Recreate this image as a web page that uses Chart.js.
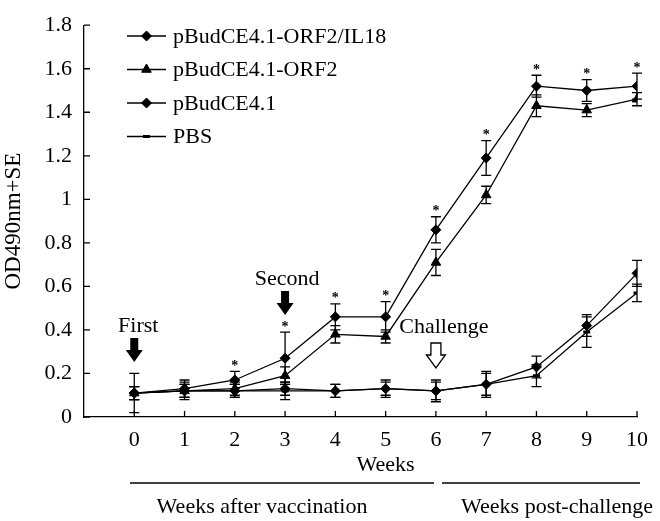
<!DOCTYPE html>
<html lang="en">
<head>
    <meta charset="UTF-8">
    <title>OD490nm by week</title>
    <style>
        body {
            margin: 0;
            background-color: #ffffff;
        }
        #wrap {
            width: 660px;
            height: 521px;
        }
    </style>
</head>
<body>
    <div id="wrap"><canvas id="odChart" width="660" height="521"></canvas></div>

    <script src="https://cdn.jsdelivr.net/npm/chart.js"></script>
    <script>
        // values
        const weeks = [0, 1, 2, 3, 4, 5, 6, 7, 8, 9, 10];
        const seriesNames = ['pBudCE4.1-ORF2/IL18', 'pBudCE4.1-ORF2', 'pBudCE4.1', 'PBS'];
        const il18Values = [0.11, 0.13, 0.17, 0.27, 0.46, 0.46, 0.86, 1.19, 1.52, 1.50, 1.52];
        const il18Se = [0.09, 0.04, 0.04, 0.12, 0.06, 0.07, 0.06, 0.08, 0.05, 0.05, 0.06];
        const orf2Values = [0.11, 0.12, 0.13, 0.19, 0.38, 0.37, 0.71, 1.02, 1.43, 1.41, 1.46];
        const orf2Se = [0.03, 0.03, 0.03, 0.04, 0.04, 0.03, 0.06, 0.04, 0.05, 0.03, 0.03];
        const vectorValues = [0.11, 0.12, 0.12, 0.13, 0.12, 0.13, 0.12, 0.15, 0.23, 0.42, 0.66];
        const vectorSe = [0.03, 0.03, 0.03, 0.03, 0.03, 0.04, 0.04, 0.05, 0.05, 0.05, 0.06];
        const pbsValues = [0.11, 0.12, 0.12, 0.12, 0.12, 0.13, 0.12, 0.15, 0.19, 0.39, 0.57];
        const pbsSe = [0.03, 0.04, 0.03, 0.04, 0.03, 0.03, 0.05, 0.06, 0.05, 0.07, 0.04];
        const starWeeks = [2, 3, 4, 5, 6, 7, 8, 9, 10];
        const yTicks = [0, 0.2, 0.4, 0.6, 0.8, 1, 1.2, 1.4, 1.6, 1.8];

        const FONT = "'Liberation Serif', 'Times New Roman', serif";
        const FS = 22;

        const toPoints = (vals) => weeks.map((w, i) => ({ x: w, y: vals[i] }));

        const makeSet = (label, vals, se, style, radius, bw) => ({
            label: label,
            data: toPoints(vals),
            se: se,
            borderColor: '#000',
            backgroundColor: '#000',
            borderWidth: 1.3,
            pointStyle: style,
            pointRadius: radius,
            pointBorderWidth: bw,
            tension: 0
        });

        const datasets = [
            makeSet(seriesNames[0], il18Values, il18Se, 'rectRot', 5, 1),
            makeSet(seriesNames[1], orf2Values, orf2Se, 'triangle', 5.5, 1),
            makeSet(seriesNames[2], vectorValues, vectorSe, 'rectRot', 5, 1),
            makeSet(seriesNames[3], pbsValues, pbsSe, 'line', 3.5, 3)
        ];

        const arrow = (ctx, x, y1, y2, shaftW, headW, headH, hollow) => {
            ctx.beginPath();
            ctx.moveTo(x - shaftW / 2, y1);
            ctx.lineTo(x + shaftW / 2, y1);
            ctx.lineTo(x + shaftW / 2, y2 - headH);
            ctx.lineTo(x + headW / 2, y2 - headH);
            ctx.lineTo(x, y2);
            ctx.lineTo(x - headW / 2, y2 - headH);
            ctx.lineTo(x - shaftW / 2, y2 - headH);
            ctx.closePath();
            if (hollow) {
                ctx.fillStyle = '#fff';
                ctx.fill();
                ctx.lineWidth = 1.3;
                ctx.strokeStyle = '#000';
                ctx.stroke();
            } else {
                ctx.fillStyle = '#000';
                ctx.fill();
            }
        };

        const decor = {
            id: 'decor',
            afterDatasetsDraw(chart) {
                const ctx = chart.ctx;
                const xs = chart.scales.x, ys = chart.scales.y;
                ctx.save();
                ctx.strokeStyle = '#000';
                ctx.lineWidth = 1.3;
                chart.data.datasets.forEach(ds => {
                    ds.data.forEach((p, i) => {
                        const px = xs.getPixelForValue(p.x);
                        const top = ys.getPixelForValue(p.y + ds.se[i]);
                        const bot = ys.getPixelForValue(p.y - ds.se[i]);
                        ctx.beginPath();
                        ctx.moveTo(px, top); ctx.lineTo(px, bot);
                        ctx.moveTo(px - 5, top); ctx.lineTo(px + 5, top);
                        ctx.moveTo(px - 5, bot); ctx.lineTo(px + 5, bot);
                        ctx.stroke();
                    });
                });
                // significance marks above the ORF2/IL18 bars
                ctx.fillStyle = '#000';
                ctx.font = 'bold 14px ' + FONT;
                ctx.textAlign = 'center';
                ctx.textBaseline = 'middle';
                starWeeks.forEach(w => {
                    const i = weeks.indexOf(w);
                    const top = ys.getPixelForValue(il18Values[i] + il18Se[i]);
                    ctx.fillText('*', xs.getPixelForValue(w), top - 5);
                });
                ctx.restore();
            },
            afterDraw(chart) {
                const ctx = chart.ctx;
                const xs = chart.scales.x, ys = chart.scales.y;
                const area = chart.chartArea;
                ctx.save();
                ctx.strokeStyle = '#000';
                ctx.fillStyle = '#000';
                ctx.lineWidth = 1.3;
                // inward tick marks
                ctx.beginPath();
                weeks.forEach(w => {
                    const px = xs.getPixelForValue(w);
                    ctx.moveTo(px, area.bottom); ctx.lineTo(px, area.bottom - 6);
                });
                yTicks.forEach(v => {
                    const py = ys.getPixelForValue(v);
                    ctx.moveTo(area.left, py); ctx.lineTo(area.left + 6, py);
                });
                ctx.stroke();

                // legend
                ctx.font = FS + 'px ' + FONT;
                ctx.textAlign = 'left';
                ctx.textBaseline = 'middle';
                chart.data.datasets.forEach((ds, k) => {
                    const ly = 36 + k * 33.5;
                    ctx.beginPath();
                    ctx.moveTo(127, ly); ctx.lineTo(166, ly);
                    ctx.lineWidth = 1.3;
                    ctx.stroke();
                    ctx.lineWidth = ds.pointBorderWidth;
                    Chart.helpers.drawPoint(ctx, {
                        pointStyle: ds.pointStyle,
                        radius: ds.pointRadius,
                        borderWidth: ds.pointBorderWidth,
                        rotation: 0
                    }, 146.5, ly);
                    ctx.fillText(ds.label, 173, ly + 1);
                });

                // event annotations
                ctx.textAlign = 'center';
                const x0 = xs.getPixelForValue(0);
                const x3 = xs.getPixelForValue(3);
                const x6 = xs.getPixelForValue(6);
                ctx.fillText('First', x0 + 4, 326);
                arrow(ctx, x0, 338, 362, 8, 17, 12, false);
                ctx.fillStyle = '#000';
                ctx.fillText('Second', x3 + 2, 279);
                arrow(ctx, x3, 291, 315, 8, 17, 12, false);
                ctx.fillStyle = '#000';
                ctx.fillText('Challenge', x6 + 8, 327);
                arrow(ctx, x6, 343, 368, 10, 19, 13, true);

                // bottom captions
                ctx.fillStyle = '#000';
                const xEnd = xs.getPixelForValue(10);
                ctx.fillText('Weeks', (x0 + xEnd) / 2, 465);
                ctx.lineWidth = 1.5;
                ctx.beginPath();
                ctx.moveTo(130, 483); ctx.lineTo(434, 483);
                ctx.moveTo(442, 483); ctx.lineTo(640, 483);
                ctx.stroke();
                ctx.fillText('Weeks after vaccination', 262, 507);
                ctx.fillText('Weeks post-challenge', 557, 507);
                ctx.restore();
            }
        };

        new Chart(document.getElementById('odChart'), {
            type: 'line',
            data: { datasets: datasets },
            plugins: [decor],
            options: {
                responsive: false,
                animation: false,
                layout: { padding: { top: 12, right: 23, left: 0, bottom: 0 } },
                plugins: {
                    legend: { display: false },
                    tooltip: { enabled: false }
                },
                scales: {
                    x: {
                        type: 'linear',
                        min: -1,
                        max: 10,
                        afterFit: (s) => { s.height = 104; },
                        afterBuildTicks: (s) => { s.ticks = weeks.map(w => ({ value: w })); },
                        grid: { display: false, drawTicks: false },
                        border: { display: true, color: '#000', width: 1.3 },
                        ticks: {
                            color: '#000',
                            padding: 10,
                            maxRotation: 0,
                            autoSkip: false,
                            font: { family: FONT, size: FS },
                            callback: (v) => String(v)
                        }
                    },
                    y: {
                        min: 0,
                        max: 1.8,
                        afterFit: (s) => { s.width = 84; },
                        afterBuildTicks: (s) => { s.ticks = yTicks.map(v => ({ value: v })); },
                        grid: { display: false, drawTicks: false },
                        border: { display: true, color: '#000', width: 1.3 },
                        title: {
                            display: true,
                            text: 'OD490nm+SE',
                            color: '#000',
                            padding: { top: 0, bottom: 0 },
                            font: { family: FONT, size: 23 }
                        },
                        ticks: {
                            color: '#000',
                            padding: 12,
                            font: { family: FONT, size: FS },
                            callback: (v) => String(v)
                        }
                    }
                }
            }
        });
    </script>
</body>
</html>
